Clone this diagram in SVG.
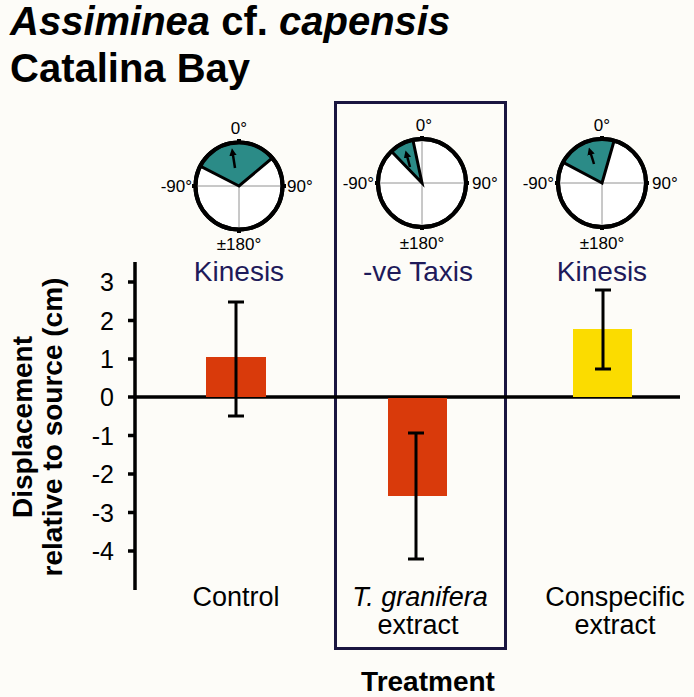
<svg xmlns="http://www.w3.org/2000/svg" width="694" height="697" viewBox="0 0 694 697">
<defs>
<style>
text{font-family:"Liberation Sans",Arial,sans-serif;fill:#000}
.title{font-size:40px;font-weight:bold}
.deg{font-size:17px}
.lab{font-size:28px;fill:#1e1a5a}
.tick{font-size:25px}
.cat{font-size:27px}
.ax{font-size:28px;font-weight:bold}
.circ{fill:#fff;stroke:#000;stroke-width:4}
.cross{stroke:#777;stroke-width:0.8}
.sector{fill:#2b8b87;stroke:#000;stroke-width:3;stroke-linejoin:miter}
.ctick{stroke:#000;stroke-width:4}
.arrow{stroke:#000;stroke-width:2.5;marker-end:url(#ah)}
.err{stroke:#000;stroke-width:3;fill:none}
.axis{stroke:#000;stroke-width:3.5;fill:none}
</style>
<marker id="ah" viewBox="0 0 10 10" refX="5" refY="5" markerWidth="3" markerHeight="3" orient="auto"><path d="M0,0 L10,5 L0,10 z" fill="#000"/></marker>
</defs>
<rect width="694" height="697" fill="#fdfcf8"/>
<g id="title">
<text class="title" x="10" y="35"><tspan font-style="italic">Assiminea</tspan> cf. <tspan font-style="italic">capensis</tspan></text>
<text class="title" x="10" y="82" font-size="42">Catalina Bay</text>
</g>
<g id="highlight-box">
<rect x="335.5" y="102.5" width="170" height="546" fill="none" stroke="#1a1640" stroke-width="3"/>
</g>
<g id="circle-control">
<circle class="circ" cx="239" cy="186" r="43.5"/>
<line class="cross" x1="239" y1="142" x2="239" y2="230"/>
<line class="cross" x1="195" y1="186" x2="283" y2="186"/>
<path class="sector" d="M239,186 L200.2,166.2 A43.5,43.5 0 0 1 272.3,158 Z"/>
<circle cx="239" cy="186" r="43.5" fill="none" stroke="#000" stroke-width="4"/>
<path class="ctick" d="M239,139 v5 M239,228 v5 M192,186 h5 M281,186 h5"/>
<line class="arrow" x1="235" y1="168" x2="232.5" y2="152"/>
<text class="deg" x="239" y="134" text-anchor="middle">0°</text>
<text class="deg" x="192" y="192" text-anchor="end">-90°</text>
<text class="deg" x="287" y="192">90°</text>
<text class="deg" x="239" y="250" text-anchor="middle">±180°</text>
<text class="lab" x="239" y="281" text-anchor="middle">Kinesis</text>
</g>
<g id="circle-taxis">
<circle class="circ" cx="422" cy="183" r="44"/>
<line class="cross" x1="422" y1="139" x2="422" y2="227"/>
<line class="cross" x1="378" y1="183" x2="466" y2="183"/>
<path class="sector" d="M422,183 L391.4,151.4 A44,44 0 0 1 412.9,140 Z"/>
<circle cx="422" cy="183" r="44" fill="none" stroke="#000" stroke-width="4"/>
<path class="ctick" d="M422,136 v5 M422,225 v5 M375,183 h5 M464,183 h5"/>
<line class="arrow" x1="410" y1="167" x2="406.5" y2="154"/>
<text class="deg" x="424" y="131" text-anchor="middle">0°</text>
<text class="deg" x="374" y="189" text-anchor="end">-90°</text>
<text class="deg" x="472" y="189">90°</text>
<text class="deg" x="422" y="249" text-anchor="middle">±180°</text>
<text class="lab" x="418" y="281" text-anchor="middle">-ve Taxis</text>
</g>
<g id="circle-conspecific">
<circle class="circ" cx="602" cy="183" r="44"/>
<line class="cross" x1="602" y1="139" x2="602" y2="227"/>
<line class="cross" x1="558" y1="183" x2="646" y2="183"/>
<path class="sector" d="M602,183 L563.1,162.4 A44,44 0 0 1 614.1,140.7 Z"/>
<circle cx="602" cy="183" r="44" fill="none" stroke="#000" stroke-width="4"/>
<path class="ctick" d="M602,136 v5 M602,225 v5 M555,183 h5 M644,183 h5"/>
<line class="arrow" x1="594" y1="164" x2="590" y2="151"/>
<text class="deg" x="602" y="131" text-anchor="middle">0°</text>
<text class="deg" x="554" y="189" text-anchor="end">-90°</text>
<text class="deg" x="652" y="189">90°</text>
<text class="deg" x="602" y="249" text-anchor="middle">±180°</text>
<text class="lab" x="602" y="281" text-anchor="middle">Kinesis</text>
</g>
<g id="axes">
<path class="axis" d="M135,262 V590 M135,397 H680"/>
<path class="axis" stroke-width="3" d="M128,282 h7 M128,320.5 h7 M128,359 h7 M128,397 h7 M128,435.5 h7 M128,474 h7 M128,512.5 h7 M128,551 h7"/>
<g text-anchor="end">
<text class="tick" x="114" y="291">3</text>
<text class="tick" x="114" y="329.5">2</text>
<text class="tick" x="114" y="368">1</text>
<text class="tick" x="114" y="406">0</text>
<text class="tick" x="114" y="444.5">-1</text>
<text class="tick" x="114" y="483">-2</text>
<text class="tick" x="114" y="521.5">-3</text>
<text class="tick" x="114" y="560">-4</text>
</g>
<text class="ax" transform="translate(32,427) rotate(-90)" text-anchor="middle">Displacement</text>
<text class="ax" transform="translate(62,427) rotate(-90)" text-anchor="middle">relative to source (cm)</text>
</g>
<g id="bar-control">
<rect x="206" y="357" width="60" height="40" fill="#d93a0b"/>
<path class="err" d="M236,302 V416 M228,302 h16 M228,416 h16"/>
<text class="cat" x="236" y="606" text-anchor="middle">Control</text>
</g>
<g id="bar-tgranifera">
<rect x="388" y="398" width="59" height="98" fill="#d93a0b"/>
<path class="err" d="M416,433 V559 M408,433 h16 M408,559 h16"/>
<text class="cat" x="420" y="606" text-anchor="middle"><tspan font-style="italic">T. granifera</tspan></text>
<text class="cat" x="418" y="634" text-anchor="middle">extract</text>
</g>
<g id="bar-conspecific">
<rect x="573" y="329" width="59" height="68" fill="#fbdc00"/>
<path class="err" d="M603,290 V369 M595,290 h16 M595,369 h16"/>
<text class="cat" x="615" y="606" text-anchor="middle">Conspecific</text>
<text class="cat" x="615" y="634" text-anchor="middle">extract</text>
</g>
<g id="x-title">
<text class="ax" x="428" y="691" text-anchor="middle" font-size="27">Treatment</text>
</g>
</svg>
